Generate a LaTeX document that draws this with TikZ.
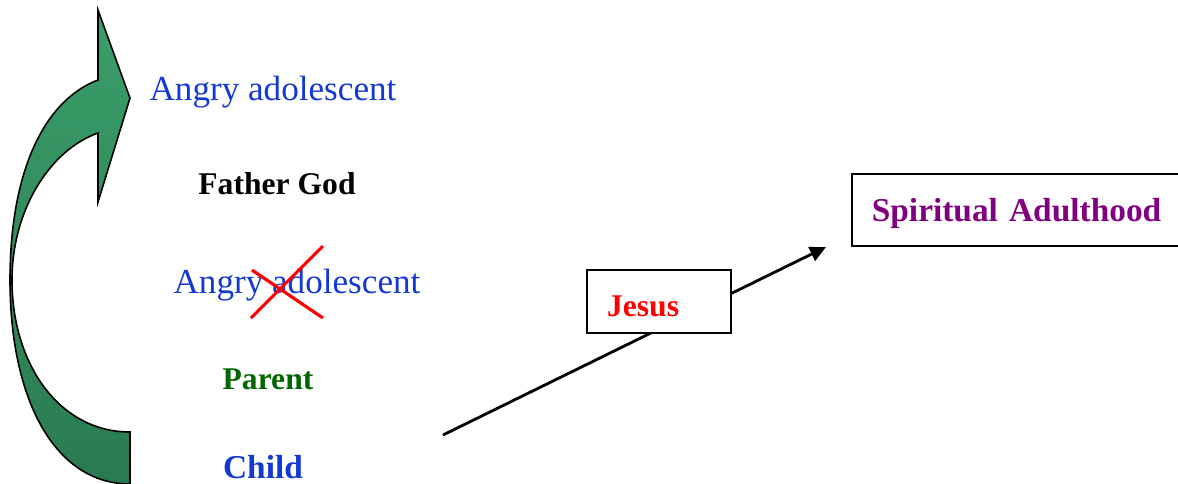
\documentclass[tikz,border=0pt]{standalone}
\usepackage{fontspec}
\setmainfont{Liberation Serif}
\usetikzlibrary{arrows.meta}
\definecolor{azul}{HTML}{1438D2}
\definecolor{verde}{HTML}{006600}
\definecolor{morado}{HTML}{800080}
\definecolor{rojo}{HTML}{FF0000}
\definecolor{verdeclaro}{HTML}{3A9E6A}
\definecolor{verdeoscuro}{HTML}{2A7A50}

\begin{document}
\begin{tikzpicture}[x=0.02cm, y=-0.02cm,
      t/.style={anchor=base, inner sep=0pt},
      caja/.style={draw, line width=1pt, fill=white, align=left, inner xsep=0.4cm},
      f/.style={-{Triangle[length=3.2mm, width=3mm]}, line width=1.6pt}]
    \useasboundingbox (0,0) rectangle (1178,484);

    % --- Flecha curva ---------------------------------------------------
    \draw[line width=0.9pt, top color=verdeclaro, bottom color=verdeoscuro]
      (130,484) .. controls (55,484) and (10,400) .. (10,280)
      .. controls (10,170) and (45,100) .. (98,80)
      -- (98,10) -- (130,98) -- (98,202) -- (98,133)
      .. controls (50,150) and (12,210) .. (12,280)
      .. controls (12,365) and (60,432) .. (130,432) -- cycle;

    % --- Columna de etapas ----------------------------------------------
    \node[t, text=azul, font=\fontsize{20}{24}\selectfont] (ang1) at (273,100) {Angry adolescent};
    \node[t, font=\fontsize{18}{22}\selectfont\bfseries] (padre) at (277,194) {Father God};
    \node[t, text=azul, font=\fontsize{20}{24}\selectfont] (ang2) at (297,293) {Angry adolescent};
    \node[t, text=verde, font=\fontsize{18}{22}\selectfont\bfseries] (pariente) at (268,389) {Parent};
    \node[t, text=azul, font=\fontsize{19}{23}\selectfont\bfseries] (hijo) at (263,478) {Child};

    % tachado
    \draw[rojo, line width=1.8pt] (251,318) -- (323,246);
    \draw[rojo, line width=1.8pt] (252,270) -- (323,318);

    % --- Camino a la adultez --------------------------------------------
    \coordinate (ini) at (443,435);
    \coordinate (fin) at (826,247);
    \draw[f] (ini) -- (fin);

    \node[caja, text width=2.08cm, minimum height=1.26cm, text=rojo,
          font=\fontsize{18}{22}\selectfont\bfseries] (jesus) at (659,301.5)
          {\raisebox{-3pt}[\height][\depth]{Jesus}};
    \node[caja, anchor=west, text width=5.9cm, minimum height=1.44cm, text=morado,
          font=\fontsize{19}{23}\selectfont\bfseries] (adulto) at (851,210)
          {\raisebox{-2pt}[\height][\depth]{Spiritual Adulthood}};
  \end{tikzpicture}
\end{document}
